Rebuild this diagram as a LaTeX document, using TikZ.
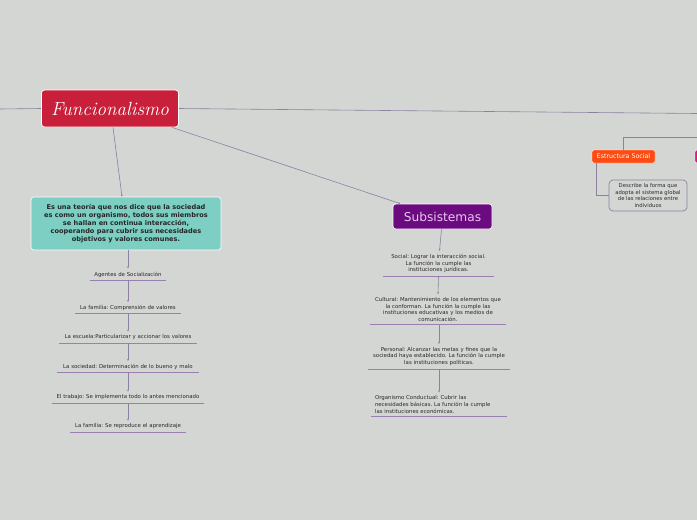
\documentclass[tikz,border=0pt]{standalone}
\usepackage{fontspec}
\setsansfont{DejaVu Sans}
\usetikzlibrary{arrows.meta}
\frenchspacing
\definecolor{bgc}{HTML}{D4D6D3}
\definecolor{redc}{HTML}{C8203A}
\definecolor{tealc}{HTML}{7CCFC2}
\definecolor{purc}{HTML}{6C0A80}
\definecolor{subtxt}{HTML}{E6C8EE}
\definecolor{orc}{HTML}{FD4B12}
\definecolor{pinkc}{HTML}{E0157F}
\definecolor{linec}{HTML}{8D80A0}
\definecolor{ulc}{HTML}{9A80B0}
\definecolor{txtc}{HTML}{2A2A2A}
\tikzset{
  conn/.style={draw=linec, line width=0.6pt},
  arr/.style={conn, -{Stealth[length=2.2pt,width=1.8pt]}},
  uline/.style={draw=ulc, line width=0.9pt},
  item/.style={font=\sffamily\fontsize{5.4}{6.7}\selectfont, text=txtc, align=center, inner xsep=0pt, inner ysep=3pt},
  rootbox/.style={fill=redc, draw=white, line width=0.8pt, rounded corners=3pt, text=white, font=\fontsize{19}{19}\selectfont\itshape, minimum width=137pt, minimum height=37pt},
  tealbox/.style={fill=tealc, draw=white, line width=0.6pt, rounded corners=3pt, text=black!85, font=\sffamily\bfseries\fontsize{6.6}{8}\selectfont, align=center, minimum width=190pt, minimum height=53pt, inner sep=2pt},
  subbox/.style={fill=purc, draw=white, line width=0.6pt, rounded corners=3pt, text=subtxt, font=\sffamily\fontsize{12.2}{13}\selectfont, minimum width=99pt, minimum height=25pt, inner sep=0pt},
  orbox/.style={fill=orc, draw=white, line width=0.4pt, rounded corners=1.5pt, text=white, font=\sffamily\fontsize{6.3}{7}\selectfont, minimum width=63pt, minimum height=13pt, inner sep=0pt},
  descbox/.style={fill=bgc, draw=linec, line width=0.7pt, rounded corners=4pt, text=txtc, font=\sffamily\fontsize{5.3}{6.6}\selectfont, align=center, minimum width=78pt, minimum height=31pt, inner sep=1pt}
}
\begin{document}
\begin{tikzpicture}[x=1pt,y=-1pt]
\useasboundingbox (0,0) rectangle (697,520);
\fill[bgc] (0,0) rectangle (697,520);

% root
\node[rootbox] (root) at (110,108.5) {Funcionalismo};
\coordinate (leftend) at (0,109);
\coordinate (rightend) at (697,113.5);
\draw[conn] (leftend) -- (root.west);
\draw[conn] (root.east) -- (rightend);

% teal description
\node[tealbox] (teal) at (126,223.5) {Es una teoría que nos dice que la sociedad\\es como un organismo, todos sus miembros\\se hallan en continua interacción,\\cooperando para cubrir sus necesidades\\objetivos y valores comunes.};
\draw[arr] ([xshift=3pt]root.south) -- ([xshift=-4pt]teal.north);

% left column
\node[item, text width=76pt] (a1) at (128,274.5) {Agentes de Socialización};
\node[item, text width=106pt] (a2) at (128,308) {La familia: Comprensión de valores};
\node[item, text width=138pt] (a3) at (128,337.5) {La escuela:Particularizar y accionar los valores};
\node[item, text width=142pt] (a4) at (128,367) {La sociedad: Determinación de lo bueno y malo};
\node[item, text width=152pt] (a5) at (128,397.5) {El trabajo: Se implementa todo lo antes mencionado};
\node[item, text width=116pt] (a6) at (128,426.5) {La familia: Se reproduce el aprendizaje};
\foreach \n in {a1,a2,a3,a4,a5,a6} {\draw[uline] (\n.south west) -- (\n.south east);}
\draw[arr] ([xshift=2pt]teal.south) -- (a1.north);
\draw[arr] (a1.south) -- (a2.north);
\draw[arr] (a2.south) -- (a3.north);
\draw[arr] (a3.south) -- (a4.north);
\draw[arr] (a4.south) -- (a5.north);
\draw[arr] (a5.south) -- (a6.north);

% Subsistemas
\node[subbox] (sub) at (442.5,216.5) {Subsistemas};
\draw[arr] ([xshift=62pt]root.south) -- ([xshift=-42pt]sub.north);

\node[item, text width=111pt] (s1) at (438.5,263.5) {Social: Lograr la interacción social.\\La función la cumple las\\instituciones jurídicas.};
\node[item, text width=136pt] (s2) at (438,309.5) {Cultural: Mantenimiento de los elementos que\\la conforman. La función la cumple las\\instituciones educativas y los medios de\\comunicación.};
\node[item, text width=142pt] (s3) at (439,356.5) {Personal: Alcanzar las metas y fines que la\\sociedad haya establecido. La función la cumple\\las instituciones políticas.};
\node[item, text width=128pt, align=left, inner xsep=4pt] (s4) at (439,404.5) {Organismo Conductual: Cubrir las\\necesidades básicas. La función la cumple\\las instituciones económicas.};
\foreach \n in {s1,s2,s3,s4} {\draw[uline] (\n.south west) -- (\n.south east);}
\draw[arr] ([xshift=-1pt]sub.south) -- ([xshift=1pt]s1.north);
\draw[arr] (s1.south) -- (s2.north);
\draw[arr] ([xshift=1pt]s2.south) -- (s3.north);
\draw[arr] (s3.south) -- (s4.north);

% right side
\node[orbox] (es) at (623.5,156.5) {Estructura Social};
\node[orbox, fill=pinkc, minimum width=12pt] (pk) at (701,156.5) {};
\coordinate (rightend2) at (697,137);
\draw[conn] (es.north) |- (rightend2);
\node[descbox] (desc) at (648,195.5) {Describe la forma que\\adopta el sistema global\\de las relaciones entre\\individuos};
\draw[conn] ([xshift=4pt]es.south west) |- (desc.west);
\end{tikzpicture}
\end{document}
